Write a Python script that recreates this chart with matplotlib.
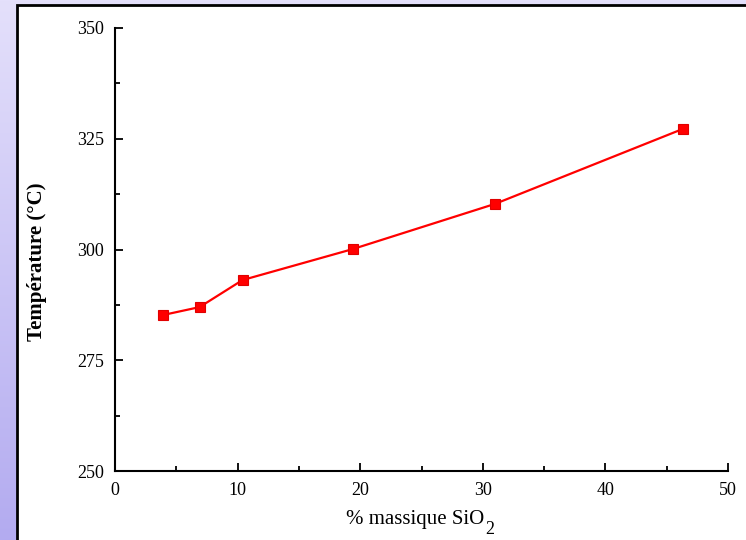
import numpy as np
import matplotlib
matplotlib.use("Agg")
import matplotlib.pyplot as plt
from matplotlib.patches import Rectangle

# valeurs
silice = [3.9, 6.9, 10.4, 19.4, 31.0, 46.3]
temperature = [285.2, 287.0, 293.1, 300.1, 310.3, 327.2]
xticks = [0, 10, 20, 30, 40, 50]
yticks = [250, 275, 300, 325, 350]

plt.rcParams['font.family'] = ['Liberation Serif', 'DejaVu Serif']

fig = plt.figure(figsize=(7.46, 5.40), dpi=100)

# fond lavande en dégradé
bg = fig.add_axes([0, 0, 1, 1], zorder=-2)
grad = np.linspace(0, 1, 256).reshape(-1, 1)
cmap = matplotlib.colors.LinearSegmentedColormap.from_list('lav', ['#e4e0fb', '#b3abf0'])
bg.imshow(grad, aspect='auto', cmap=cmap, extent=[0, 1, 0, 1])
bg.set_axis_off()

# panneau blanc avec bordure noire
fig.patches.append(Rectangle((17 / 746, -0.01), 1.0, 1 - 5 / 540 + 0.01,
                             transform=fig.transFigure, facecolor='white',
                             edgecolor='black', linewidth=2, zorder=-1))

ax = fig.add_axes([115 / 746, 1 - 471 / 540, (728 - 115) / 746, (471 - 28) / 540])
ax.set_facecolor('none')
ax.plot(silice, temperature, color='#ff0000', lw=1.6, marker='s', markersize=6.8,
        markerfacecolor='#ff0000', markeredgecolor='#e00000', markeredgewidth=0.8)

ax.set_xlim(0, 50)
ax.set_ylim(250, 350)
ax.set_xticks(xticks)
ax.set_yticks(yticks)
ax.set_xticks([5, 15, 25, 35, 45], minor=True)
ax.set_yticks([262.5, 287.5, 312.5, 337.5], minor=True)
ax.tick_params(which='major', direction='in', length=6, width=1.3, labelsize=13, pad=8)
ax.tick_params(which='minor', direction='in', length=3.5, width=1.3)
ax.spines['top'].set_visible(False)
ax.spines['right'].set_visible(False)
ax.spines['left'].set_linewidth(1.5)
ax.spines['bottom'].set_linewidth(1.5)

ax.set_ylabel('Température (°C)', fontsize=15, fontweight='bold')
ax.yaxis.set_label_coords(-0.111, 0.472)

# étiquette x avec un indice "2" plus grand et plus bas, comme sur l'original
ax.set_xlabel('% massique SiO', fontsize=15)
ax.xaxis.set_label_coords(0.49, -0.088)
fig.canvas.draw()
bb = ax.xaxis.label.get_window_extent()
fig.text((bb.x1 + 1) / 746, (bb.y0 - 9) / 540, '2', fontsize=13, va='bottom')

fig.savefig('out.png', dpi=100)
